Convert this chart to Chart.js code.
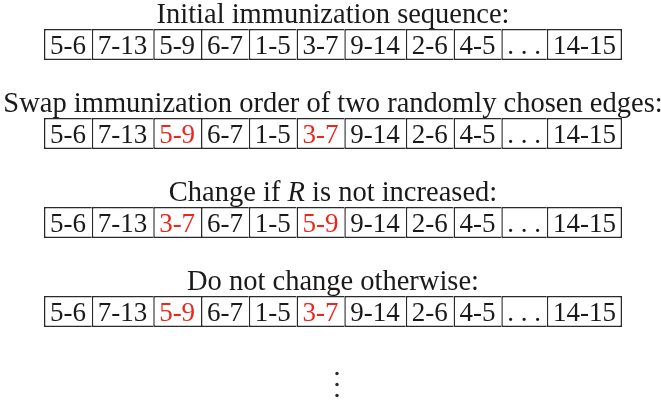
<!DOCTYPE html>
<html>
<head>
<meta charset="utf-8">
<script src="https://cdn.jsdelivr.net/npm/chart.js@4.4.1/dist/chart.umd.min.js"></script>
<style>
  body { margin: 0; background: #fff; }
</style>
</head>
<body>
<canvas id="seq" width="661" height="403"></canvas>
<script>
// ---------- data ----------
const stepTitles = [
  "Initial immunization sequence:",
  "Swap immunization order of two randomly chosen edges:",
  "Change if R is not increased:",
  "Do not change otherwise:"
];

const seqInitial = ["5-6", "7-13", "5-9", "6-7", "1-5", "3-7", "9-14", "2-6", "4-5", ". . .", "14-15"];
const seqSwapped = ["5-6", "7-13", "5-9", "6-7", "1-5", "3-7", "9-14", "2-6", "4-5", ". . .", "14-15"];
const seqChanged = ["5-6", "7-13", "3-7", "6-7", "1-5", "5-9", "9-14", "2-6", "4-5", ". . .", "14-15"];
const seqKept    = ["5-6", "7-13", "5-9", "6-7", "1-5", "3-7", "9-14", "2-6", "4-5", ". . .", "14-15"];

// cells shown in red in each row
const redCells = [[], [2, 5], [2, 5], [2, 5]];

const rows = [seqInitial, seqSwapped, seqChanged, seqKept];

// ---------- look ----------
const FONT = "27px 'Liberation Serif', 'Times New Roman', serif";
const TITLE_FONT = "28.5px 'Liberation Serif', 'Times New Roman', serif";
const TITLE_ITALIC = "italic 28.5px 'Liberation Serif', 'Times New Roman', serif";
const INK = "#1a1a1a";
const RED = "#e8281e";
const LINE = "#2a2a2a";

// column width follows the widest label in that column (like a tabular)
const measure = document.createElement("canvas").getContext("2d");
measure.font = FONT;
const colWidths = seqInitial.map((_, j) =>
  Math.max(...rows.map(r => measure.measureText(r[j]).width)) + 11
);
const total = colWidths.reduce((a, b) => a + b, 0);
const lastCol = colWidths.length - 1;

const datasets = colWidths.map((w, j) => ({
  label: "col" + j,
  data: rows.map(() => w),
  backgroundColor: "#ffffff",
  borderColor: LINE,
  borderWidth: j === lastCol
    ? { top: 1.5, bottom: 1.5, left: 1.5, right: 1.5 }
    : { top: 1.5, bottom: 1.5, left: 1.5, right: 0 },
  borderSkipped: false,
  inflateAmount: 0,
  barThickness: 31
}));

// ---------- texts, titles and the dots ----------
const cellText = {
  id: "cellText",
  afterDatasetsDraw(chart) {
    const ctx = chart.ctx;
    const area = chart.chartArea;
    const yScale = chart.scales.y;
    ctx.save();
    ctx.textBaseline = "middle";
    ctx.textAlign = "center";
    ctx.font = FONT;

    chart.data.datasets.forEach((ds, j) => {
      const meta = chart.getDatasetMeta(j);
      meta.data.forEach((bar, i) => {
        const p = bar.getProps(["x", "y", "base"], true);
        ctx.fillStyle = redCells[i].includes(j) ? RED : INK;
        ctx.fillText(rows[i][j], (p.x + p.base) / 2, p.y + 2);
      });
    });

    // step titles above each row
    const cx = (area.left + area.right) / 2;
    stepTitles.forEach((t, i) => {
      const y = yScale.getPixelForValue(i) - 29;
      ctx.fillStyle = INK;
      if (t.includes(" R ")) {
        const [a, b] = t.split("R");
        ctx.font = TITLE_FONT;
        const wa = ctx.measureText(a).width;
        const wb = ctx.measureText(b).width;
        ctx.font = TITLE_ITALIC;
        const wr = ctx.measureText("R").width;
        const x = cx - (wa + wr + wb) / 2;
        ctx.textAlign = "left";
        ctx.font = TITLE_FONT;
        ctx.fillText(a, x, y);
        ctx.font = TITLE_ITALIC;
        ctx.fillText("R", x + wa, y);
        ctx.font = TITLE_FONT;
        ctx.fillText(b, x + wa + wr, y);
        ctx.textAlign = "center";
      } else {
        ctx.font = TITLE_FONT;
        ctx.fillText(t, cx, y);
      }
    });

    // vertical ellipsis below the last row
    const yLast = yScale.getPixelForValue(stepTitles.length - 1);
    ctx.fillStyle = LINE;
    [62, 73, 84].forEach(d => {
      ctx.beginPath();
      ctx.arc(cx + 4, yLast + d, 1.7, 0, Math.PI * 2);
      ctx.fill();
    });
    ctx.restore();
  }
};

new Chart(document.getElementById("seq"), {
  type: "bar",
  data: { labels: stepTitles, datasets: datasets },
  options: {
    indexAxis: "y",
    responsive: false,
    animation: false,
    layout: { padding: { left: 44, right: 39, top: 0, bottom: 47 } },
    scales: {
      x: { stacked: true, display: false, min: 0, max: total },
      y: { stacked: true, display: false }
    },
    plugins: {
      legend: { display: false },
      tooltip: { enabled: false }
    }
  },
  plugins: [cellText]
});
</script>
</body>
</html>
